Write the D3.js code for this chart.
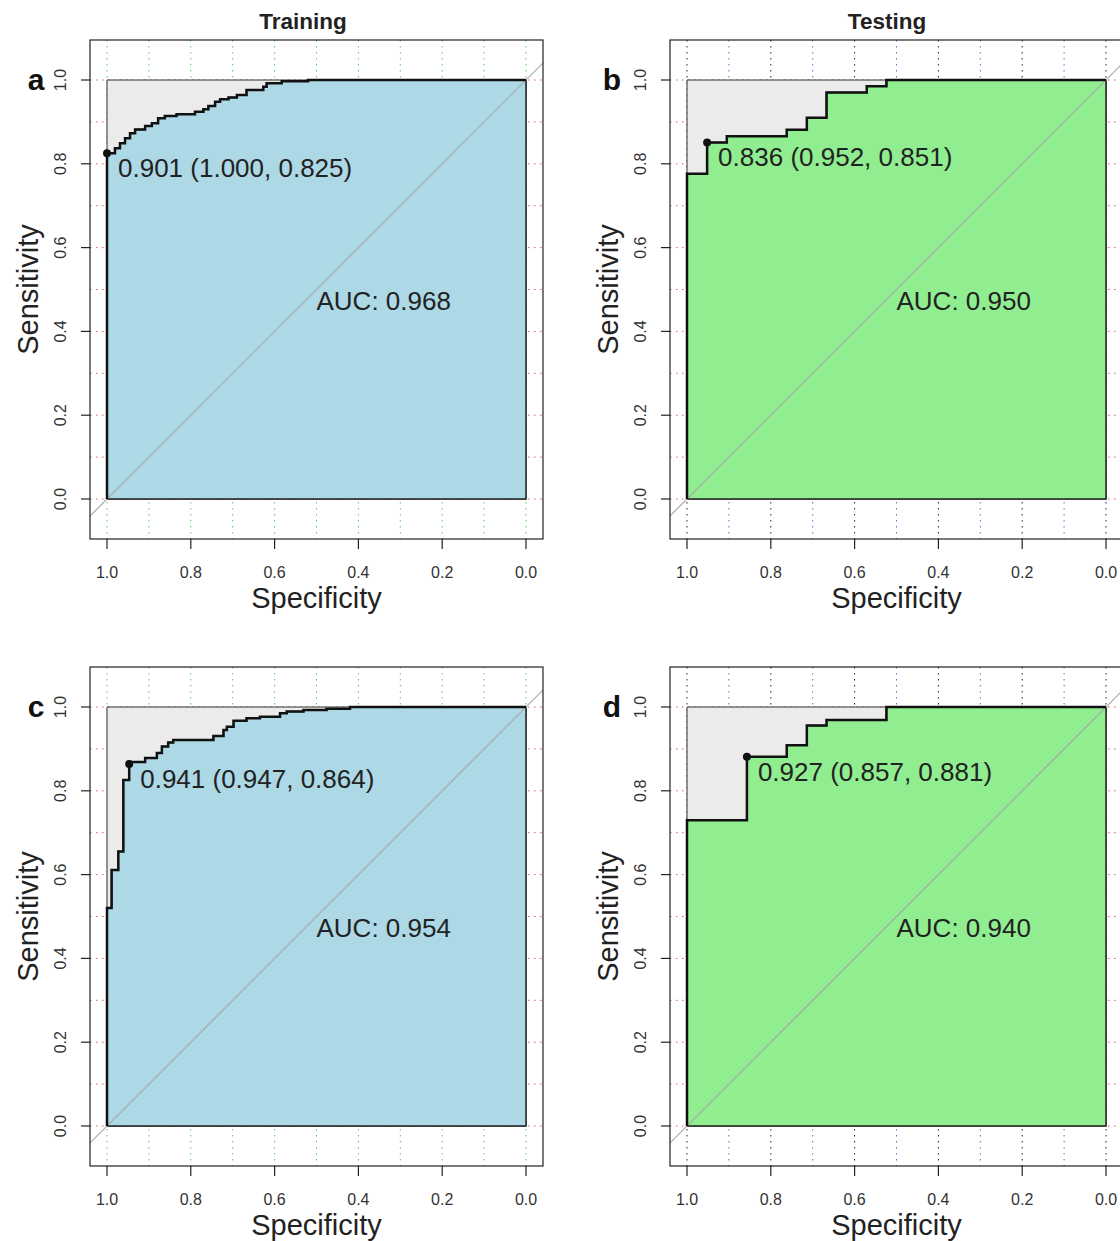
<!DOCTYPE html>
<html>
<head>
<meta charset="utf-8">
<script src="https://cdn.jsdelivr.net/npm/d3@7"></script>
<style>
	body { margin: 0; background: white; }
	svg { font-family: "Liberation Sans", Arial, Helvetica, sans-serif; }
</style>
</head>
<body>
<svg id="chart" width="1120" height="1241"></svg>
<script>
// ROC step corners (specificity, sensitivity)
let specA = [1.000, 1.000, 0.981, 0.969, 0.957, 0.945, 0.933, 0.909, 0.893, 0.878, 0.862, 0.834, 0.790, 0.770, 0.758, 0.742, 0.730, 0.710, 0.690, 0.667, 0.627, 0.619, 0.583, 0.520, 0.000];
let sensA = [0.000, 0.825, 0.837, 0.849, 0.861, 0.873, 0.882, 0.890, 0.897, 0.909, 0.914, 0.918, 0.924, 0.930, 0.938, 0.948, 0.954, 0.958, 0.964, 0.976, 0.984, 0.992, 0.997, 1.000, 1.000];

let specB = [1.000, 1.000, 0.952, 0.905, 0.762, 0.714, 0.667, 0.571, 0.524, 0.000];
let sensB = [0.000, 0.776, 0.851, 0.866, 0.881, 0.910, 0.970, 0.985, 1.000, 1.000];

let specC = [1.000, 1.000, 0.989, 0.973, 0.961, 0.947, 0.947, 0.909, 0.881, 0.869, 0.854, 0.842, 0.746, 0.722, 0.714, 0.698, 0.667, 0.635, 0.587, 0.571, 0.531, 0.476, 0.420, 0.000];
let sensC = [0.000, 0.520, 0.611, 0.655, 0.826, 0.864, 0.869, 0.878, 0.890, 0.906, 0.915, 0.921, 0.931, 0.945, 0.953, 0.967, 0.973, 0.977, 0.985, 0.989, 0.993, 0.996, 1.000, 1.000];

let specD = [1.000, 1.000, 0.857, 0.762, 0.714, 0.667, 0.524, 0.000];
let sensD = [0.000, 0.730, 0.881, 0.909, 0.956, 0.969, 1.000, 1.000];

// best threshold points and labels
let thresSpec = [1.000, 0.952, 0.947, 0.857];
let thresSens = [0.825, 0.851, 0.864, 0.881];
let thresLabels = ['0.901 (1.000, 0.825)', '0.836 (0.952, 0.851)', '0.941 (0.947, 0.864)', '0.927 (0.857, 0.881)'];
let aucLabels = ['AUC: 0.968', 'AUC: 0.950', 'AUC: 0.954', 'AUC: 0.940'];

let panelLetters = ['a', 'b', 'c', 'd'];
let columnTitles = ['Training', 'Testing'];
let axisTicks = [0, 0.2, 0.4, 0.6, 0.8, 1.0];
let gridSteps = [0, 0.1, 0.2, 0.3, 0.4, 0.5, 0.6, 0.7, 0.8, 0.9, 1.0];

let svg = d3.select('#chart');

let frameW = 453;
let frameH = 499;

let x = d3.scaleLinear().domain([1, 0]).range([17, 436]);
let y = d3.scaleLinear().domain([0, 1]).range([459, 40]);

let panels = [
	{ spec: specA, sens: sensA, left: 90, top: 40, fill: '#add8e6', kind: 'train' },
	{ spec: specB, sens: sensB, left: 670, top: 40, fill: '#90ee90', kind: 'test' },
	{ spec: specC, sens: sensC, left: 90, top: 667, fill: '#add8e6', kind: 'train' },
	{ spec: specD, sens: sensD, left: 670, top: 667, fill: '#90ee90', kind: 'test' }
];

// column titles
svg.append('text').attr('x', 303).attr('y', 29).attr('text-anchor', 'middle')
	.style('font-weight', 'bold').style('font-size', '22.5px').attr('fill', '#222').text(columnTitles[0]);
svg.append('text').attr('x', 887).attr('y', 29).attr('text-anchor', 'middle')
	.style('font-weight', 'bold').style('font-size', '22.5px').attr('fill', '#222').text(columnTitles[1]);

panels.map(function(p, idx) {
	let g = svg.append('g').attr('transform', 'translate(' + p.left + ', ' + p.top + ')');

	let clipId = 'clip' + idx;
	g.append('clipPath').attr('id', clipId)
		.append('rect').attr('x', 0).attr('y', 0).attr('width', frameW).attr('height', frameH);

	let inner = g.append('g').attr('clip-path', 'url(#' + clipId + ')');

	// grid
	inner.selectAll('.vgrid')
		.data(gridSteps)
		.enter()
		.append('line')
		.attr('x1', d => x(d)).attr('x2', d => x(d))
		.attr('y1', 0).attr('y2', frameH)
		.attr('stroke', (d, i) => p.kind === 'train' ? '#55cc55' : (i % 2 === 0 ? '#222244' : '#6a6acc'))
		.attr('stroke-width', 1)
		.attr('stroke-dasharray', '1.5,4.5');

	inner.selectAll('.hgrid')
		.data(gridSteps)
		.enter()
		.append('line')
		.attr('x1', 0).attr('x2', frameW)
		.attr('y1', d => y(d)).attr('y2', d => y(d))
		.attr('stroke', '#d06060')
		.attr('stroke-width', 1)
		.attr('stroke-dasharray', '1.5,4.5');

	// max auc square
	let square = [[1, 0], [1, 1], [0, 1], [0, 0]];
	inner.append('path')
		.datum(square)
		.attr('d', d3.line().x(d => x(d[0])).y(d => y(d[1])).curve(d3.curveLinearClosed))
		.attr('fill', '#ebebeb')
		.attr('stroke', '#333')
		.attr('stroke-width', 1);

	let pts = p.spec.map((s, i) => [s, p.sens[i]]);
	let stepLine = d3.line()
		.x(d => x(d[0]))
		.y(d => y(d[1]))
		.curve(d3.curveStepAfter);

	// auc polygon
	let polyPts = pts.concat([[0, 0]]);
	inner.append('path')
		.datum(polyPts)
		.attr('d', stepLine(polyPts) + 'Z')
		.attr('fill', p.fill)
		.attr('stroke', '#222')
		.attr('stroke-width', 1.5);

	// chance diagonal
	inner.append('line')
		.attr('x1', x(1.1)).attr('y1', y(-0.1))
		.attr('x2', x(-0.1)).attr('y2', y(1.1))
		.attr('stroke', '#a8a8a8')
		.attr('stroke-width', 1.2);

	// roc curve
	inner.append('path')
		.datum(pts)
		.attr('d', stepLine)
		.attr('fill', 'none')
		.attr('stroke', '#111')
		.attr('stroke-width', 2.5);

	// threshold point + label
	g.append('circle')
		.attr('cx', x(thresSpec[idx]))
		.attr('cy', y(thresSens[idx]))
		.attr('r', 4)
		.attr('fill', '#111');
	g.append('text')
		.attr('x', x(thresSpec[idx]) + 11)
		.attr('y', y(thresSens[idx]) + 24)
		.style('font-size', '26px')
		.attr('fill', '#222')
		.text(thresLabels[idx]);

	g.append('text')
		.attr('x', x(0.5))
		.attr('y', y(0.5) + 20)
		.style('font-size', '26px')
		.attr('fill', '#222')
		.text(aucLabels[idx]);

	// frame
	g.append('rect')
		.attr('x', 0).attr('y', 0).attr('width', frameW).attr('height', frameH)
		.attr('fill', 'none').attr('stroke', '#222').attr('stroke-width', 1.2);

	// x axis
	let xAxis = g.append('g').attr('transform', 'translate(0, ' + frameH + ')');
	xAxis.selectAll('line')
		.data(axisTicks)
		.enter()
		.append('line')
		.attr('x1', d => x(d)).attr('x2', d => x(d))
		.attr('y1', 0).attr('y2', 10)
		.attr('stroke', '#222').attr('stroke-width', 1.2);
	xAxis.selectAll('text')
		.data(axisTicks)
		.enter()
		.append('text')
		.attr('x', d => x(d))
		.attr('y', 39)
		.attr('text-anchor', 'middle')
		.style('font-size', '16px')
		.attr('fill', '#333')
		.text(d => d3.format('.1f')(d));
	g.append('text')
		.attr('x', frameW / 2)
		.attr('y', frameH + 69)
		.attr('text-anchor', 'middle')
		.style('font-size', '29px')
		.attr('fill', '#222')
		.text('Specificity');

	// y axis
	let yAxis = g.append('g');
	yAxis.selectAll('line')
		.data(axisTicks)
		.enter()
		.append('line')
		.attr('x1', -9).attr('x2', 0)
		.attr('y1', d => y(d)).attr('y2', d => y(d))
		.attr('stroke', '#222').attr('stroke-width', 1.2);
	yAxis.selectAll('text')
		.data(axisTicks)
		.enter()
		.append('text')
		.attr('transform', d => 'translate(-30, ' + y(d) + ') rotate(-90)')
		.attr('text-anchor', 'middle')
		.attr('dy', '0.35em')
		.style('font-size', '16px')
		.attr('fill', '#333')
		.text(d => d3.format('.1f')(d));
	g.append('text')
		.attr('transform', 'translate(-62, ' + y(0.5) + ') rotate(-90)')
		.attr('text-anchor', 'middle')
		.attr('dy', '0.35em')
		.style('font-size', '29px')
		.attr('fill', '#222')
		.text('Sensitivity');

	// panel letter
	g.append('text')
		.attr('x', idx % 2 === 0 ? -54 : -58)
		.attr('y', y(1) + 10)
		.attr('text-anchor', 'middle')
		.style('font-size', '30px')
		.style('font-weight', 'bold')
		.attr('fill', '#111')
		.text(panelLetters[idx]);
});
</script>
</body>
</html>
